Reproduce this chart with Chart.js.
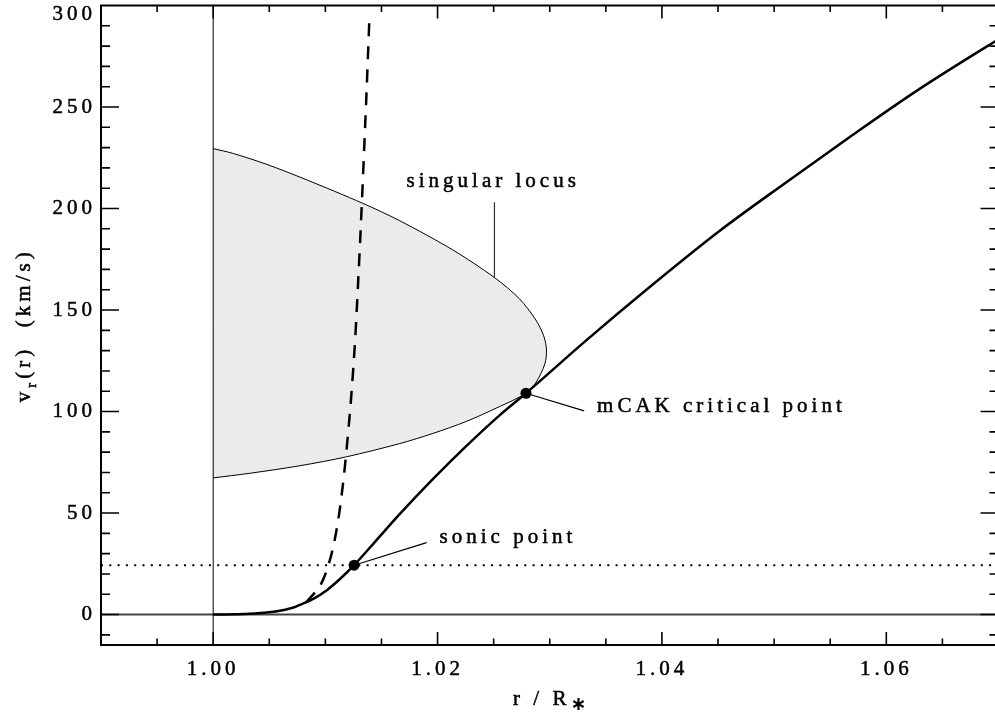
<!DOCTYPE html>
<html>
<head>
<meta charset="utf-8">
<script src="https://cdn.jsdelivr.net/npm/chart.js@4/dist/chart.umd.min.js"></script>
<style>
html, body { margin: 0; padding: 0; background: #fff; overflow: hidden; }
#wrap { width: 1004px; height: 717px; position: relative; }
canvas { display: block; }
</style>
</head>
<body>
<div id="wrap"><canvas id="c" width="1004" height="717"></canvas></div>
<script>
// ---------------- data ----------------
const rSolution = [1.0000, 1.0020, 1.0040, 1.0057, 1.0070, 1.0080, 1.0090, 1.0101, 1.0113, 1.01256, 1.0145, 1.0166, 1.0196, 1.0226, 1.0255, 1.02788, 1.0332, 1.0391, 1.0451, 1.0510, 1.0569, 1.0628, 1.0694, 1.0700];
const vSolution = [0.0, 0.15, 0.6, 1.6, 3.2, 5.4, 8.0, 11.9, 17.5, 24.3, 36.3, 49.3, 66.8, 83.2, 98.0, 109.0, 134.8, 162.2, 188.8, 212.6, 235.8, 258.3, 281.3, 283.3];

const rDashed = [1.0083, 1.0098, 1.0106, 1.0111, 1.0114, 1.01183, 1.01235, 1.01265, 1.01293, 1.01325, 1.01349, 1.01364, 1.01393];
const vDashed = [6.0, 17.2, 31.0, 45.0, 56.6, 77.9, 110.7, 135.2, 164.8, 202.5, 233.6, 253.3, 294.3];

const rLocusUpper = [1.0000, 1.0018, 1.0048, 1.0083, 1.01336, 1.01662, 1.02136, 1.02507, 1.02729, 1.02876, 1.02946, 1.02971];
const vLocusUpper = [229.5, 227.1, 221.7, 214.2, 202.5, 194.0, 179.6, 166.0, 155.6, 145.1, 137.3, 130.3];
const rLocusLower = [1.02956, 1.02880, 1.02788, 1.02551, 1.02255, 1.01958, 1.01662, 1.01188, 1.00773, 1.00329, 1.0000];
const vLocusLower = [123.4, 114.6, 109.0, 102.4, 95.1, 89.2, 84.2, 77.7, 73.3, 69.6, 67.3];

const sonicPoint = { r: 1.01256, v: 24.3 };
const criticalPoint = { r: 1.02788, v: 109.0 };
const soundSpeed = 24.3;
const stellarRadius = 1.0;

const xTickLabels = [1.00, 1.02, 1.04, 1.06];
const yTickLabels = [0, 50, 100, 150, 200, 250, 300];
const xRange = [0.99, 1.07];
const yRange = [-15, 300];
const xMinorStep = 0.005;
const yMinorStep = 10;

// ---------------- styling / layout ----------------
const FONT = "'Liberation Serif', 'Times New Roman', serif";
const FONT_SIZE = 21;
const LETTER_SPACING = '4px';
const TEXT_STROKE = 0.5;

const annotations = [
  { text: 'singular locus', at: [1.01724, 210.5], line: [[1.02507, 203.1], [1.02507, 166.0]], color: '#333' },
  { text: 'mCAK critical point', at: [1.03422, 100.0], line: [[criticalPoint.r, criticalPoint.v], [1.03307, 100.3]], color: '#000' },
  { text: 'sonic point', at: [1.02018, 35.4], line: [[sonicPoint.r, sonicPoint.v], [1.01902, 35.4]], color: '#000' }
];

const toXY = (xs, ys) => xs.map((x, i) => ({ x: x, y: ys[i] }));

function heavyText(ctx, s, x, y) {
  ctx.fillText(s, x, y);
  ctx.lineWidth = TEXT_STROKE;
  ctx.strokeStyle = '#000';
  ctx.strokeText(s, x, y);
}

const framePlugin = {
  id: 'frame',
  beforeUpdate(chart) { chart.ctx.letterSpacing = LETTER_SPACING; },
  beforeDraw(chart) { chart.ctx.letterSpacing = LETTER_SPACING; },
  afterDatasetsDraw(chart) {
    const { ctx, chartArea: a, scales: { x, y } } = chart;
    ctx.save();
    ctx.strokeStyle = '#000';
    ctx.lineCap = 'butt';

    // annotation pointer lines and text
    ctx.font = FONT_SIZE + 'px ' + FONT;
    ctx.letterSpacing = LETTER_SPACING;
    ctx.textAlign = 'left';
    ctx.textBaseline = 'alphabetic';
    for (const an of annotations) {
      ctx.beginPath();
      ctx.lineWidth = 1.2;
      ctx.strokeStyle = an.color;
      ctx.moveTo(x.getPixelForValue(an.line[0][0]), y.getPixelForValue(an.line[0][1]));
      ctx.lineTo(x.getPixelForValue(an.line[1][0]), y.getPixelForValue(an.line[1][1]));
      ctx.stroke();
      ctx.fillStyle = '#000';
      heavyText(ctx, an.text, x.getPixelForValue(an.at[0]), y.getPixelForValue(an.at[1]));
    }

    // inward ticks (IDL style) on all four sides
    ctx.strokeStyle = '#000';
    ctx.lineWidth = 1.6;
    ctx.beginPath();
    const isMajorX = v => xTickLabels.some(t => Math.abs(t - v) < 1e-9);
    const isMajorY = v => yTickLabels.some(t => Math.abs(t - v) < 1e-9);
    for (let k = Math.ceil(xRange[0] / xMinorStep - 1e-6); k * xMinorStep <= xRange[1] + 1e-9; k++) {
      const v = k * xMinorStep;
      const p = x.getPixelForValue(v);
      if (p <= a.left + 0.5 || p >= a.right - 0.5) continue;
      const L = isMajorX(v) ? 13 : 6.5;
      ctx.moveTo(p, a.bottom); ctx.lineTo(p, a.bottom - L);
      ctx.moveTo(p, a.top); ctx.lineTo(p, a.top + L);
    }
    for (let k = Math.ceil(yRange[0] / yMinorStep - 1e-6); k * yMinorStep <= yRange[1] + 1e-9; k++) {
      const v = k * yMinorStep;
      const p = y.getPixelForValue(v);
      if (p <= a.top + 0.5 || p >= a.bottom - 0.5) continue;
      const L = isMajorY(v) ? 18 : 9;
      ctx.moveTo(a.left, p); ctx.lineTo(a.left + L, p);
      ctx.moveTo(a.right, p); ctx.lineTo(a.right - L, p);
    }
    ctx.stroke();
    ctx.lineWidth = 2;
    ctx.strokeRect(a.left, a.top, a.right - a.left, a.bottom - a.top);
    ctx.restore();
  },
  afterDraw(chart) {
    const { ctx, chartArea: a } = chart;
    ctx.save();
    ctx.fillStyle = '#000';
    ctx.letterSpacing = LETTER_SPACING;
    ctx.textBaseline = 'alphabetic';
    ctx.textAlign = 'left';

    // x title: r / R_*
    const cx = (a.left + a.right) / 2;
    const mainFont = FONT_SIZE + 'px ' + FONT;
    const starFont = 'bold 19px "DejaVu Sans"';
    ctx.font = mainFont;
    const xMain = 'r / R';
    const wMain = ctx.measureText(xMain).width;
    ctx.font = starFont;
    ctx.letterSpacing = '0px';
    const wStar = ctx.measureText('\u2217').width;
    const x0 = cx - (wMain + wStar) / 2;
    ctx.font = mainFont;
    ctx.letterSpacing = LETTER_SPACING;
    heavyText(ctx, xMain, x0, 705);
    ctx.font = starFont;
    ctx.letterSpacing = '0px';
    ctx.fillText('\u2217', x0 + wMain, 710);

    // y title: v_r(r)  (km/s), rotated
    const cy = (a.top + a.bottom) / 2;
    const subFont = '15px ' + FONT;
    ctx.letterSpacing = LETTER_SPACING;
    ctx.font = mainFont; const wV = ctx.measureText('v').width;
    ctx.font = subFont; const wSub = ctx.measureText('r').width;
    ctx.font = mainFont; const wRest = ctx.measureText('(r)  (km/s)').width;
    const total = wV + wSub + wRest;
    ctx.translate(30, cy);
    ctx.rotate(-Math.PI / 2);
    let tx = -total / 2;
    ctx.font = mainFont; heavyText(ctx, 'v', tx, 0); tx += wV;
    ctx.font = subFont; heavyText(ctx, 'r', tx, 6); tx += wSub;
    ctx.font = mainFont; heavyText(ctx, '(r)  (km/s)', tx, 0);
    ctx.restore();
  }
};

const chart = new Chart(document.getElementById('c').getContext('2d'), {
  type: 'line',
  data: {
    datasets: [
      {
        label: 'singular locus',
        data: toXY(rLocusUpper.concat(rLocusLower), vLocusUpper.concat(vLocusLower)),
        fill: 'shape',
        backgroundColor: '#ebebeb',
        borderColor: '#000',
        borderWidth: 1,
        pointRadius: 0,
        tension: 0.3,
        order: 6
      },
      {
        label: 'stellar surface',
        data: [{ x: stellarRadius, y: yRange[0] }, { x: stellarRadius, y: yRange[1] }],
        borderColor: '#000', borderWidth: 1, pointRadius: 0, fill: false, order: 5
      },
      {
        label: 'zero',
        data: [{ x: xRange[0], y: 0 }, { x: xRange[1], y: 0 }],
        borderColor: '#444', borderWidth: 2, pointRadius: 0, fill: false, order: 5
      },
      {
        label: 'sound speed',
        data: [{ x: xRange[0], y: soundSpeed }, { x: xRange[1], y: soundSpeed }],
        borderColor: '#000', borderWidth: 2, borderDash: [2, 6.3], pointRadius: 0, fill: false, order: 4
      },
      {
        label: 'dashed solution',
        data: toXY(rDashed, vDashed),
        borderColor: '#000', borderWidth: 2.5, borderDash: [13, 10], pointRadius: 0, fill: false,
        cubicInterpolationMode: 'monotone', order: 3
      },
      {
        label: 'wind solution',
        data: toXY(rSolution, vSolution),
        borderColor: '#000', borderWidth: 2.5, pointRadius: 0, fill: false,
        cubicInterpolationMode: 'monotone', order: 2
      },
      {
        label: 'critical points',
        data: [{ x: sonicPoint.r, y: sonicPoint.v }, { x: criticalPoint.r, y: criticalPoint.v }],
        showLine: false, pointRadius: 5.5, pointBackgroundColor: '#000', pointBorderWidth: 0,
        borderColor: '#000', fill: false, order: 1
      }
    ]
  },
  options: {
    responsive: false,
    animation: false,
    events: [],
    layout: { padding: { left: 0, top: 5, right: 3.5, bottom: 0 } },
    plugins: { legend: { display: false }, tooltip: { enabled: false }, title: { display: false } },
    scales: {
      x: {
        type: 'linear', min: xRange[0], max: xRange[1],
        grid: { display: false, drawTicks: false },
        border: { display: false },
        afterBuildTicks(s) { s.ticks = xTickLabels.map(v => ({ value: v })); },
        afterFit(s) { s.height = 72; s.paddingLeft = 0; s.paddingRight = 0; },
        ticks: {
          color: '#000', font: { family: FONT, size: FONT_SIZE }, padding: 12,
          textStrokeColor: '#000', textStrokeWidth: TEXT_STROKE,
          maxRotation: 0, autoSkip: false,
          callback: v => Number(v).toFixed(2)
        }
      },
      y: {
        type: 'linear', min: yRange[0], max: yRange[1],
        grid: { display: false, drawTicks: false },
        border: { display: false },
        afterBuildTicks(s) { s.ticks = yTickLabels.map(v => ({ value: v })); },
        afterFit(s) { s.width = 101; s.paddingTop = 0; s.paddingBottom = 0; },
        ticks: {
          color: '#000', padding: 5, autoSkip: false,
          textStrokeColor: '#000', textStrokeWidth: TEXT_STROKE,
          font: c => ({ family: FONT, size: FONT_SIZE,
            lineHeight: (c.tick && c.tick.value === yRange[1]) ? '17px' : 1.2 }),
          // the top label sits just below the frame, as in the reference
          callback: v => (v === yRange[1] ? ['', String(v)] : String(v))
        }
      }
    }
  },
  plugins: [framePlugin]
});
</script>
</body>
</html>
